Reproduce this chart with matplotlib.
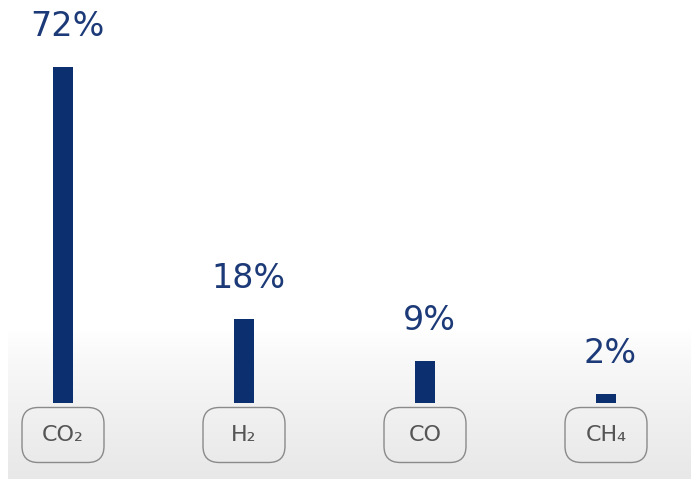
import matplotlib.pyplot as plt
import numpy as np
from matplotlib.patches import FancyBboxPatch
from matplotlib.colors import LinearSegmentedColormap

gases = ['CO₂', 'H₂', 'CO', 'CH₄']
shares = [72, 18, 9, 2]

bar_color = '#0b2f6f'
label_color = '#1d3a78'
box_text = '#555555'

plt.rcParams['font.family'] = 'DejaVu Sans'

fig = plt.figure(figsize=(6.91, 4.79), dpi=100)
ax = fig.add_axes([0, 0, 1, 1])

# pixel scale: 181 px between bars, 4.667 px per percent
x_lo, x_hi = -63 / 181, (691 - 63) / 181
y_lo, y_hi = -76 / 4.667, 403 / 4.667
ax.set_xlim(x_lo, x_hi)
ax.set_ylim(y_lo, y_hi)
ax.axis('off')

# soft grey floor fading into white
grad = np.linspace(0, 1, 256).reshape(-1, 1) ** 0.8
cmap = LinearSegmentedColormap.from_list('floor', ['#ffffff', '#e8e8e8'])
ax.imshow(grad, extent=(x_lo + 8 / 181, x_hi, y_lo, (479 - 330 - 76) / 4.667),
          origin='upper', aspect='auto', cmap=cmap, zorder=0)

x = np.arange(len(gases))
ax.bar(x, shares, width=20 / 181, color=bar_color, zorder=2)

for xi, v in zip(x, shares):
    ax.annotate(f'{v}%', (xi, v), xytext=(3, 17), textcoords='offset points',
                ha='center', va='bottom', fontsize=24, color=label_color, zorder=3)

# rounded label boxes under the bars
bw, bh = 82 / 181, 55 / 4.667
by = -(435 - 403) / 4.667
aspect = (1 / 4.667) / (1 / 181)
for xi, name in zip(x, gases):
    box = FancyBboxPatch((xi - bw / 2, by - bh / 2), bw, bh,
                         boxstyle='round,pad=0,rounding_size=0.09',
                         mutation_aspect=aspect, facecolor='none',
                         edgecolor='#8a8a8a', linewidth=1.0, zorder=3)
    ax.add_patch(box)
    ax.text(xi, by, name, ha='center', va='center', fontsize=16,
            color=box_text, zorder=4)

fig.savefig('out.png', dpi=100, facecolor='white')
